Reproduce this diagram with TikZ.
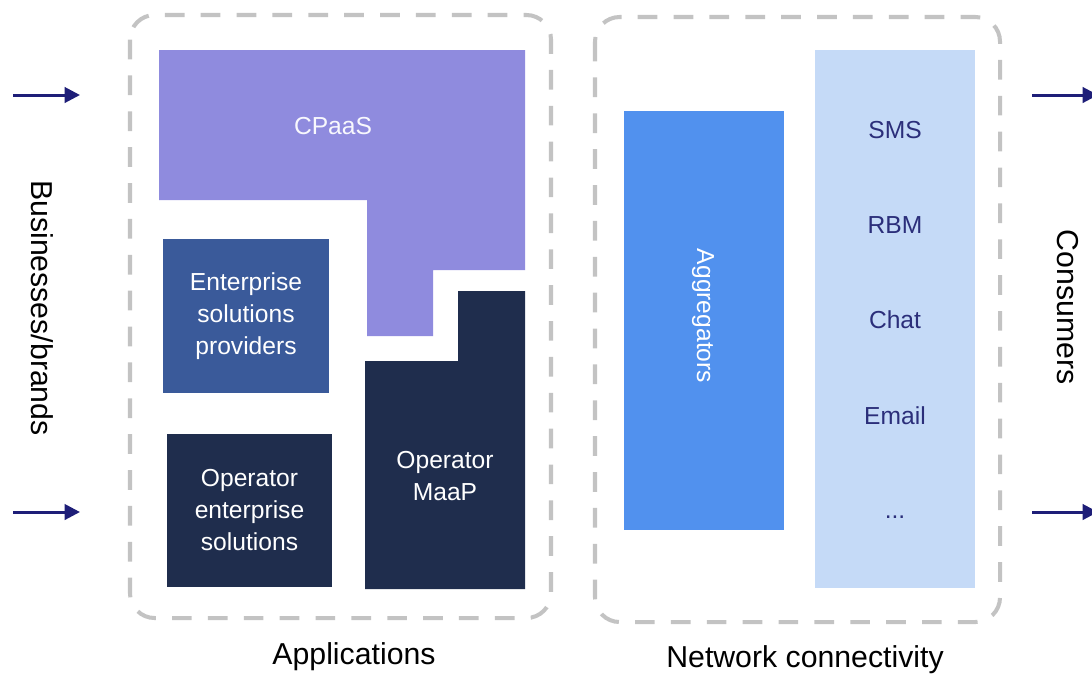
\documentclass[tikz,border=0pt]{standalone}
\usepackage{fontspec}
\setmainfont{Liberation Sans}
\usetikzlibrary{arrows.meta, positioning}

\definecolor{cpaas}{HTML}{8F8BDE}
\definecolor{navybox}{HTML}{1F2D4D}
\definecolor{entblue}{HTML}{3A5A9A}
\definecolor{aggblue}{HTML}{5191EE}
\definecolor{chanblue}{HTML}{C5DAF7}
\definecolor{chantext}{HTML}{2B2E7A}
\definecolor{arrowblue}{HTML}{1E1E78}
\definecolor{dashgray}{HTML}{C3C3C3}

\begin{document}
\begin{tikzpicture}[x=0.01cm, y=-0.01cm,
    group/.style={draw=dashgray, line width=1.15pt, rounded corners=7pt,
                  dash pattern=on 5.6pt off 4.6pt},
    box/.style={rectangle, inner sep=0pt, align=center, text=white,
                font=\fontsize{7}{9.1}\selectfont},
    lbl/.style={font=\fontsize{7}{9.1}\selectfont, inner sep=0pt},
    side/.style={font=\fontsize{8.6}{10}\selectfont, inner sep=0pt, rotate=-90},
    caption/.style={font=\fontsize{8.6}{10}\selectfont, inner sep=0pt},
    flow/.style={draw=arrowblue, line width=0.85pt,
                 -{Triangle[length=4.4pt, width=4.4pt]}}
  ]
  \useasboundingbox (0,0) rectangle (1092,675);

  % dashed groups
  \draw[group] (130,15) rectangle (551,618);
  \draw[group] (595,17) rectangle (1000,622);

  % CPaaS and Operator MaaP outlines
  \fill[cpaas] (159,50) -- (525,50) -- (525,270) -- (433,270) -- (433,336)
    -- (367,336) -- (367,200) -- (159,200) -- cycle;
  \fill[navybox] (458,291) -- (525,291) -- (525,589) -- (365,589)
    -- (365,361) -- (458,361) -- cycle;
  \node[box, text=white!94!cpaas] (cpaas) at (333,126) {CPaaS};
  \node[box] (maap) at (445,476) {Operator\\MaaP};

  % application blocks
  \node[box, fill=entblue, minimum width=1.66cm, minimum height=1.54cm]
    (esp) at (246,316) {Enterprise\\solutions\\providers};
  \node[box, fill=navybox, minimum width=1.65cm, minimum height=1.53cm]
    (oes) at (249.5,510.5) {Operator\\enterprise\\solutions};

  % network connectivity
  \node[box, fill=aggblue, minimum width=1.60cm, minimum height=4.19cm]
    (agg) at (704,320.5) {};
  \node[box, rotate=-90] (agglbl) at (703,316) {Aggregators};
  \node[box, fill=chanblue, minimum width=1.60cm, minimum height=5.38cm]
    (chan) at (895,319) {};
  \node[lbl, text=chantext] (sms)   at (895,130) {SMS};
  \node[lbl, text=chantext] (rbm)   at (895,225) {RBM};
  \node[lbl, text=chantext] (chat)  at (895,320) {Chat};
  \node[lbl, text=chantext] (email) at (895,416) {Email};
  \node[lbl, text=chantext] (more)  at (895,517) {...};

  % side labels
  \node[side] (biz) at (42,308) {Businesses/brands};
  \node[side] (cons) at (1068,307) {Consumers};
  \node[caption] (apps) at (354,657) {Applications};
  \node[caption] (net) at (805,660) {Network connectivity};

  % in/out arrows
  \coordinate (in1a) at (13,95);   \coordinate (in1b) at (80,95);
  \coordinate (in2a) at (13,512);  \coordinate (in2b) at (80,512);
  \coordinate (out1a) at (1032,95);  \coordinate (out1b) at (1098,95);
  \coordinate (out2a) at (1032,512); \coordinate (out2b) at (1098,512);
  \draw[flow] (in1a) -- (in1b);
  \draw[flow] (in2a) -- (in2b);
  \draw[flow] (out1a) -- (out1b);
  \draw[flow] (out2a) -- (out2b);
\end{tikzpicture}
\end{document}
